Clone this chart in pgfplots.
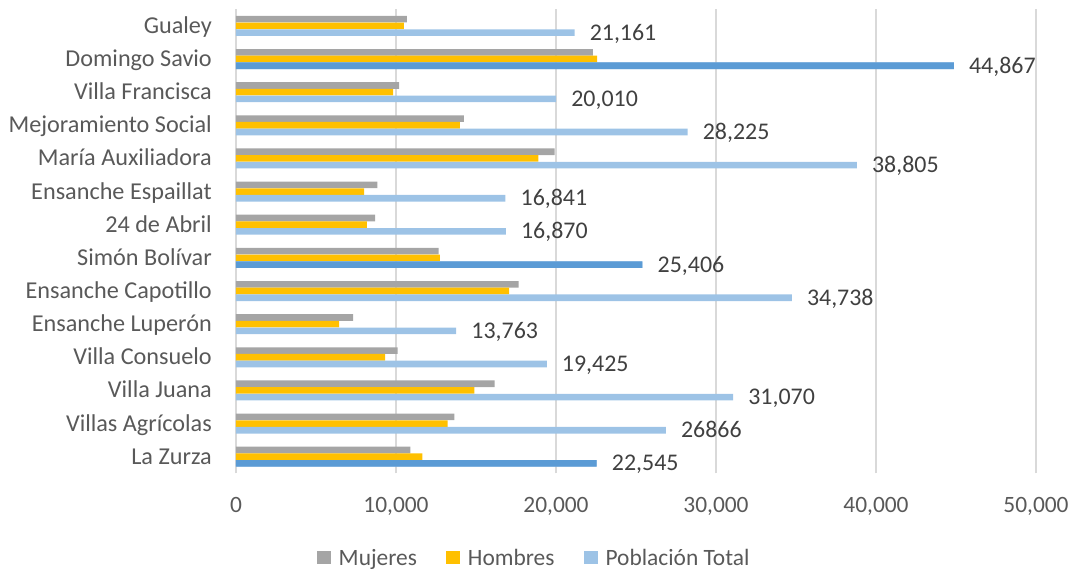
\documentclass[border=0pt]{standalone}
\usepackage{fontspec}
\setmainfont{Carlito}
\usepackage{pgfplots}
\usepackage{pgfplotstable}
\pgfplotsset{compat=1.18}
\definecolor{cM}{HTML}{A5A5A5}
\definecolor{cH}{HTML}{FFC000}
\definecolor{cT}{HTML}{9DC3E6}
\definecolor{cD}{HTML}{5B9BD5}
\definecolor{txt}{HTML}{595959}
\definecolor{lbltxt}{HTML}{404040}
\definecolor{grd}{HTML}{D9D9D9}

\pgfplotstableread[col sep=semicolon]{
y;M;H;T;lbl
13;10675;10486;21161;21,161
12;22300;22567;44867;44,867
11;10195;9815;20010;20,010
10;14240;13985;28225;28,225
9;19910;18895;38805;38,805
8;8840;8001;16841;16,841
7;8695;8175;16870;16,870
6;12660;12746;25406;25,406
5;17660;17078;34738;34,738
4;7325;6438;13763;13,763
3;10100;9325;19425;19,425
2;16170;14900;31070;31,070
1;13645;13221;26866;26866
0;10898;11647;22545;22,545
}\data

\pgfplotstableread[col sep=semicolon]{
y;T
12;44867
6;25406
0;22545
}\dark

\pgfplotsset{sqlegend/.style={legend image code/.code={\fill[##1] (0bp,-6.5bp) rectangle (14bp,6.5bp);}}}

\begin{document}
\begin{tikzpicture}
\useasboundingbox (-236bp,-99.7bp) rectangle (846bp,473.3bp);
\begin{axis}[
  at={(0,0)}, anchor=south west,
  scale only axis, width=800bp, height=464bp,
  xmin=0, xmax=50000, ymin=-0.5, ymax=13.5,
  xbar, bar width=6.6bp,
  axis line style={draw=none},
  xmajorgrids=true, grid style={grd, line width=1.3bp},
  major tick length=0pt,
  xtick={0,10000,20000,30000,40000,50000},
  scaled x ticks=false,
  ytick={0,1,2,3,4,5,6,7,8,9,10,11,12,13},
  yticklabels={La Zurza, Villas Agrícolas, Villa Juana~, Villa Consuelo~, Ensanche Luperón~, Ensanche Capotillo, Simón Bolívar~, 24 de Abril~, Ensanche Espaillat, María Auxiliadora~, Mejoramiento Social, Villa Francisca~, Domingo Savio, Gualey~},
  tick label style={font=\fontsize{23.5}{28}\selectfont, text=txt, inner sep=0pt},
  yticklabel style={anchor=base east, xshift=-24bp, yshift=-7.5bp, font=\fontsize{24.3}{28}\selectfont},
  xticklabel style={anchor=base, yshift=-39bp},
  /pgf/number format/1000 sep={,},
  /pgf/number format/assume math mode=true,
  legend columns=3,
  legend style={draw=none, fill=none, at={(0.372,-0.1825)}, anchor=center,
    font=\fontsize{23.5}{28}\selectfont, text=txt,
    nodes={inner sep=1bp},
    /tikz/every odd column/.append style={column sep=7bp},
    /tikz/every even column/.append style={column sep=28bp}},
  clip=false,
]
\addplot[fill=cM, draw=none, bar shift=6.7bp, sqlegend] table[x=M,y=y] \data;
\addlegendentry{Mujeres}
\addplot[fill=cH, draw=none, bar shift=0bp, sqlegend] table[x=H,y=y] \data;
\addlegendentry{Hombres}
\addplot[fill=cT, draw=none, bar shift=-6.7bp, sqlegend,
  point meta=explicit symbolic, nodes near coords,
  nodes near coords style={anchor=base west, inner sep=0pt, xshift=15bp, yshift=-7.5bp,
    font=\fontsize{24}{28}\selectfont, text=lbltxt}] table[x=T,y=y,meta=lbl] \data;
\addlegendentry{Población Total}
\addplot[fill=cD, draw=none, bar shift=-6.7bp, forget plot] table[x=T,y=y] \dark;
\end{axis}
\end{tikzpicture}
\end{document}
